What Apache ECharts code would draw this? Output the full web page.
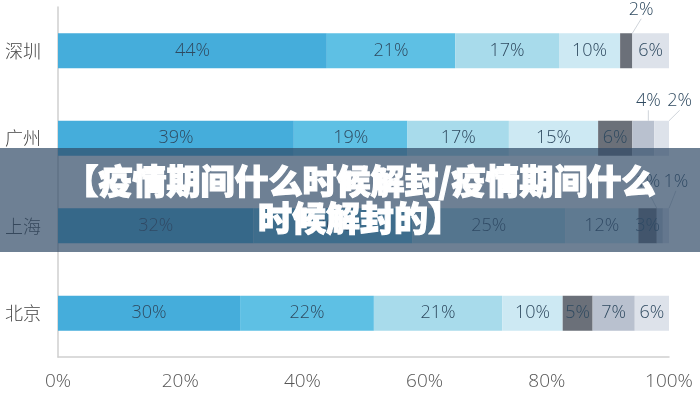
<!DOCTYPE html>
<html>
<head>
<meta charset="utf-8">
<script src="https://cdn.jsdelivr.net/npm/echarts@6/dist/echarts.min.js"></script>
<style>
html,body{margin:0;padding:0;background:#fff;}
#c{width:700px;height:400px;}
</style>
</head>
<body>
<div id="c"></div>
<script>
// categories bottom -> top
const categories = ['北京', '上海', '广州', '深圳'];
const xTicks = [0, 20, 40, 60, 80, 100];
// series values (percent), one value per category above
const s1 = [29.8, 32, 38.6, 44];
const s2 = [21.9, 26, 18.6, 21];
const s3 = [21.0, 25, 16.6, 17];
const s4 = [9.9, 12, 14.6, 10];
const s5 = [4.9, 3, 5.6, 2];
const s6 = [6.9, 1, 3.6, 0];
const s7 = [5.6, 1, 2.4, 6];
const seriesValues = [s1, s2, s3, s4, s5, s6, s7];
const colors = ['#45addb', '#5ec0e4', '#a8dbeb', '#cde9f3', '#6b7079', '#b9c1cf', '#dde2ea'];
const titleText = '【疫情期间什么时候解封/疫情期间什么\n时候解封的】';

// labels moved outside the bar (seriesIndex-dataIndex -> [dx, dy])
const moved = {
  '4-3': [15, -41],
  '5-2': [5, -37],
  '6-2': [18, -37],
  '5-1': [-12, -44],
  '6-1': [10, -44]
};

const chart = echarts.init(document.getElementById('c'));
const series = seriesValues.map((vals, si) => ({
  type: 'bar',
  stack: 'total',
  barWidth: '40%',
  data: vals,
  itemStyle: { color: colors[si] },
  label: {
    show: true,
    position: 'inside',
    color: '#2f4a60',
    fontSize: 18,
    fontFamily: 'Open Sans',
    fontWeight: 300,
    formatter: p => p.value > 0 ? Math.round(p.value) + '%' : ''
  },
  labelLine: { show: true, lineStyle: { color: '#cfd4da', width: 1 } },
  labelLayout: function (params) {
    const m = moved[si + '-' + params.dataIndex];
    if (m) return { dx: m[0], dy: m[1] };
    return {};
  }
}));

chart.setOption({
  animation: false,
  grid: { left: 58, right: 31, top: 7, bottom: 43 },
  xAxis: {
    type: 'value',
    min: 0, max: 100, interval: 20,
    axisLine: { show: true, lineStyle: { color: '#cfcfcf', width: 1.5 } },
    axisTick: { show: false },
    splitLine: { show: false },
    axisLabel: {
      color: '#555', fontSize: 19, fontFamily: 'Open Sans', fontWeight: 300, margin: 15,
      formatter: v => xTicks.indexOf(v) >= 0 ? v + '%' : ''
    }
  },
  yAxis: {
    type: 'category',
    data: categories,
    axisLine: { show: true, lineStyle: { color: '#cfcfcf', width: 1.5 } },
    axisTick: { show: false },
    axisLabel: { color: '#444', fontSize: 18, fontFamily: 'Noto Sans CJK SC', fontWeight: 300, margin: 17 }
  },
  series: series,
  graphic: [
    {
      type: 'rect', z: 100,
      shape: { x: 0, y: 148, width: 700, height: 104 },
      style: { fill: 'rgba(48,74,102,0.7)' }
    },
    {
      type: 'text', z: 101,
      x: 360, y: 200,
      style: {
        text: titleText,
        fill: '#ffffff',
        stroke: '#ffffff',
        lineWidth: 1.2,
        font: '900 34px "Noto Sans CJK SC"',
        lineHeight: 37,
        align: 'center',
        verticalAlign: 'middle'
      }
    }
  ]
});
</script>
</body>
</html>
